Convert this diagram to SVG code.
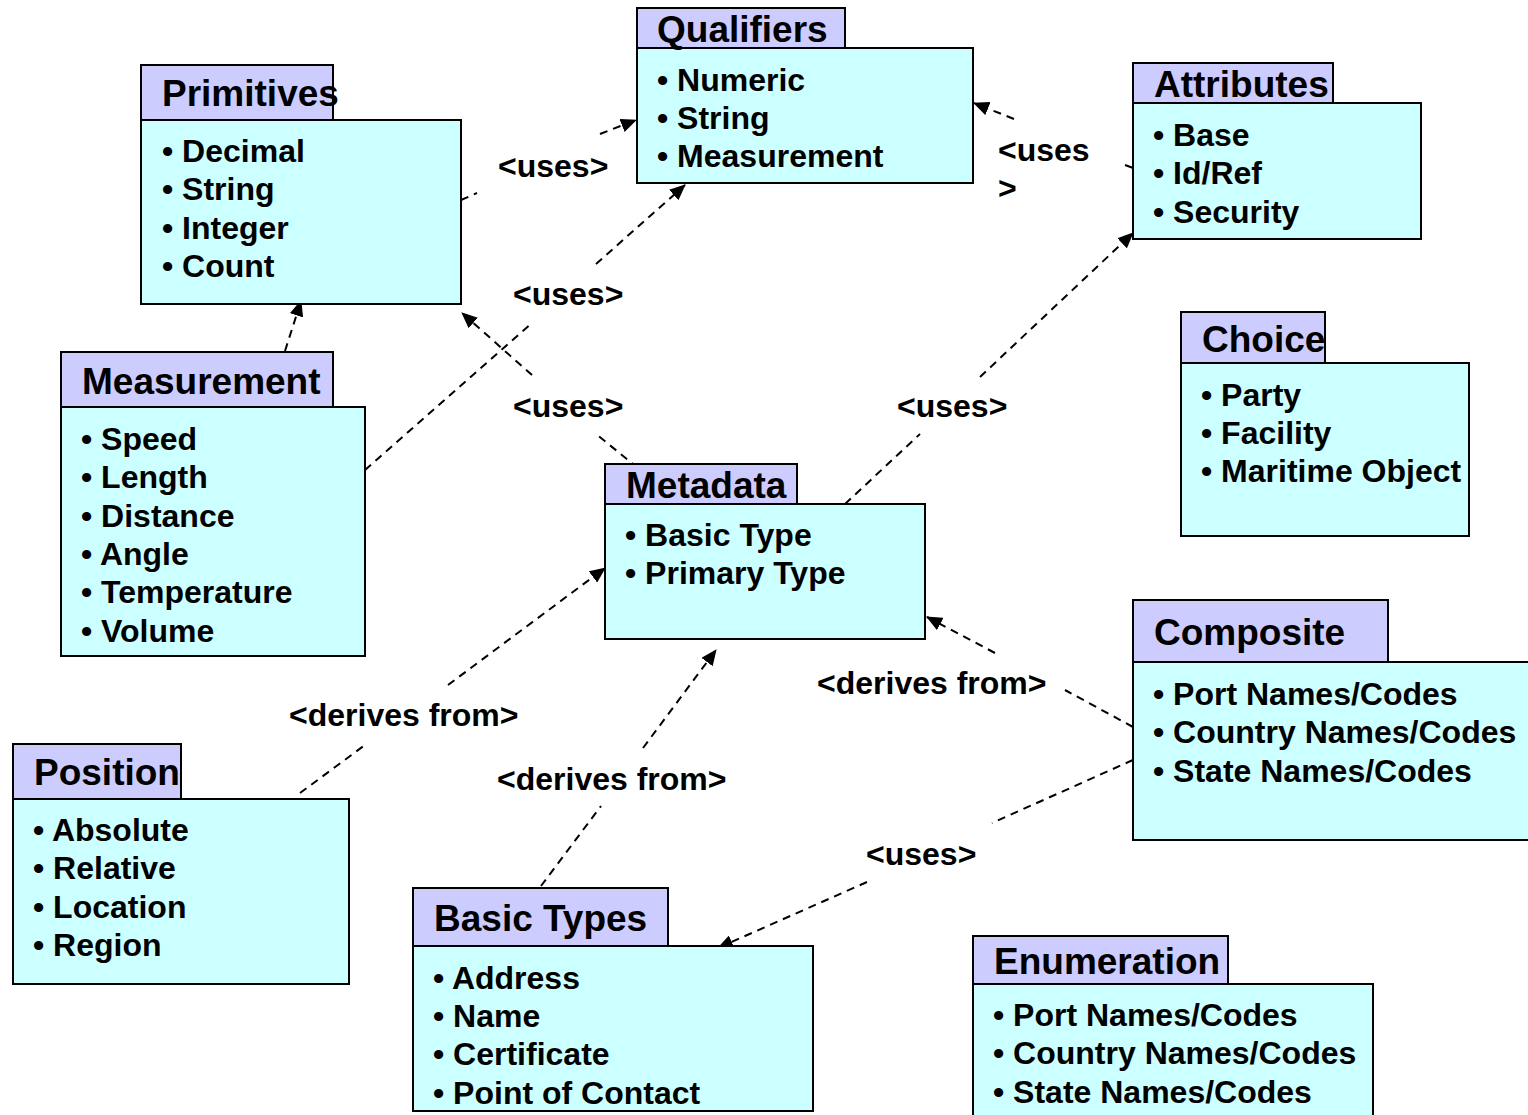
<svg xmlns="http://www.w3.org/2000/svg" width="1528" height="1115" viewBox="0 0 1528 1115">
<defs>
<style>
.tab{fill:#CCCCFF;stroke:#000;stroke-width:2}
.body{fill:#CCFFFF;stroke:#000;stroke-width:2}
.title{font-family:"Liberation Sans",Arial,sans-serif;font-weight:bold;font-size:37px;fill:#000}
.item{font-family:"Liberation Sans",Arial,sans-serif;font-weight:bold;font-size:32px;fill:#000}
.lbl{font-family:"Liberation Sans",Arial,sans-serif;font-weight:bold;font-size:32px;fill:#000}
.con{fill:none;stroke:#000;stroke-width:2;stroke-dasharray:8 6}
.arr{fill:none;stroke:#000;stroke-width:2;stroke-dasharray:8 6;marker-end:url(#ah)}
</style>
<marker id="ah" viewBox="0 0 16 14" refX="15" refY="7" markerWidth="16" markerHeight="14" markerUnits="userSpaceOnUse" orient="auto">
<path d="M0,0 L16,7 L0,14 z" fill="#000"/>
</marker>
</defs>
<rect width="1528" height="1115" fill="#fff"/>

<g id="connectors">
<!-- Primitives -> Qualifiers -->
<path class="con" d="M461,200 L477,193"/>
<path class="arr" d="M600,134 L636,120"/>
<text class="lbl" x="498" y="177">&lt;uses&gt;</text>
<!-- Measurement -> Qualifiers -->
<path class="con" d="M365,470 L533,322"/>
<path class="arr" d="M596,264 L685,185"/>
<text class="lbl" x="513" y="305">&lt;uses&gt;</text>
<!-- Metadata -> Primitives -->
<path class="con" d="M638,468 L596,434"/>
<path class="arr" d="M532,375 L462,313"/>
<text class="lbl" x="513" y="417">&lt;uses&gt;</text>
<!-- Measurement -> Primitives -->
<path class="arr" d="M285,351 L301,301"/>
<!-- Attributes -> Qualifiers -->
<path class="con" d="M1125,165 L1133,168"/>
<path class="arr" d="M1014,119 L974,103"/>
<text class="lbl" x="998" y="161">&lt;uses</text>
<text class="lbl" x="998" y="199">&gt;</text>
<!-- Metadata -> Attributes -->
<path class="con" d="M845,504 L920,434"/>
<path class="arr" d="M980,377 L1133,233"/>
<text class="lbl" x="897" y="417">&lt;uses&gt;</text>
<!-- Position -> Metadata -->
<path class="con" d="M300,793 L365,745"/>
<path class="arr" d="M448,685 L605,568"/>
<text class="lbl" x="289" y="726">&lt;derives from&gt;</text>
<!-- Basic Types -> Metadata -->
<path class="con" d="M541,886 L601,806"/>
<path class="arr" d="M643,748 L716,650"/>
<text class="lbl" x="497" y="790">&lt;derives from&gt;</text>
<!-- Composite -> Metadata -->
<path class="con" d="M1133,727 L1065,690"/>
<path class="arr" d="M995,653 L927,617"/>
<text class="lbl" x="817" y="694">&lt;derives from&gt;</text>
<!-- Composite -> Basic Types -->
<path class="con" d="M1133,760 L992,823"/>
<path class="arr" d="M867,882 L718,948"/>
<text class="lbl" x="866" y="865">&lt;uses&gt;</text>
</g>

<g id="primitives">
<rect class="tab" x="141" y="65" width="192" height="55"/>
<rect class="body" x="141" y="120" width="320" height="184"/>
<text class="title" x="162" y="106">Primitives</text>
<text class="item" x="162" y="162">• Decimal</text>
<text class="item" x="162" y="200">• String</text>
<text class="item" x="162" y="239">• Integer</text>
<text class="item" x="162" y="277">• Count</text>
</g>

<g id="qualifiers">
<rect class="tab" x="637" y="8" width="208" height="40"/>
<rect class="body" x="637" y="48" width="336" height="135"/>
<text class="title" x="657" y="42">Qualifiers</text>
<text class="item" x="657" y="91">• Numeric</text>
<text class="item" x="657" y="129">• String</text>
<text class="item" x="657" y="167">• Measurement</text>
</g>

<g id="attributes">
<rect class="tab" x="1133" y="63" width="200" height="40"/>
<rect class="body" x="1133" y="103" width="288" height="136"/>
<text class="title" x="1154" y="97">Attributes</text>
<text class="item" x="1153" y="146">• Base</text>
<text class="item" x="1153" y="184">• Id/Ref</text>
<text class="item" x="1153" y="223">• Security</text>
</g>

<g id="choice">
<rect class="tab" x="1181" y="312" width="144" height="51"/>
<rect class="body" x="1181" y="363" width="288" height="173"/>
<text class="title" x="1202" y="352">Choice</text>
<text class="item" x="1201" y="406">• Party</text>
<text class="item" x="1201" y="444">• Facility</text>
<text class="item" x="1201" y="482">• Maritime Object</text>
</g>

<g id="measurement">
<rect class="tab" x="61" y="352" width="272" height="55"/>
<rect class="body" x="61" y="407" width="304" height="249"/>
<text class="title" x="82" y="394">Measurement</text>
<text class="item" x="81" y="450">• Speed</text>
<text class="item" x="81" y="488">• Length</text>
<text class="item" x="81" y="527">• Distance</text>
<text class="item" x="81" y="565">• Angle</text>
<text class="item" x="81" y="603">• Temperature</text>
<text class="item" x="81" y="642">• Volume</text>
</g>

<g id="metadata">
<rect class="tab" x="605" y="464" width="192" height="40"/>
<rect class="body" x="605" y="504" width="320" height="135"/>
<text class="title" x="626" y="498">Metadata</text>
<text class="item" x="625" y="546">• Basic Type</text>
<text class="item" x="625" y="584">• Primary Type</text>
</g>

<g id="composite">
<rect class="tab" x="1133" y="600" width="255" height="62"/>
<rect class="body" x="1133" y="662" width="400" height="178"/>
<text class="title" x="1154" y="645">Composite</text>
<text class="item" x="1153" y="705">• Port Names/Codes</text>
<text class="item" x="1153" y="743">• Country Names/Codes</text>
<text class="item" x="1153" y="782">• State Names/Codes</text>
</g>

<g id="position">
<rect class="tab" x="13" y="744" width="168" height="55"/>
<rect class="body" x="13" y="799" width="336" height="185"/>
<text class="title" x="34" y="785">Position</text>
<text class="item" x="33" y="841">• Absolute</text>
<text class="item" x="33" y="879">• Relative</text>
<text class="item" x="33" y="918">• Location</text>
<text class="item" x="33" y="956">• Region</text>
</g>

<g id="basic-types">
<rect class="tab" x="413" y="888" width="255" height="58"/>
<rect class="body" x="413" y="946" width="400" height="165"/>
<text class="title" x="434" y="931">Basic Types</text>
<text class="item" x="433" y="989">• Address</text>
<text class="item" x="433" y="1027">• Name</text>
<text class="item" x="433" y="1065">• Certificate</text>
<text class="item" x="433" y="1104">• Point of Contact</text>
</g>

<g id="enumeration">
<rect class="tab" x="973" y="936" width="255" height="48"/>
<rect class="body" x="973" y="984" width="400" height="140"/>
<text class="title" x="994" y="974">Enumeration</text>
<text class="item" x="993" y="1026">• Port Names/Codes</text>
<text class="item" x="993" y="1064">• Country Names/Codes</text>
<text class="item" x="993" y="1103">• State Names/Codes</text>
</g>
</svg>
